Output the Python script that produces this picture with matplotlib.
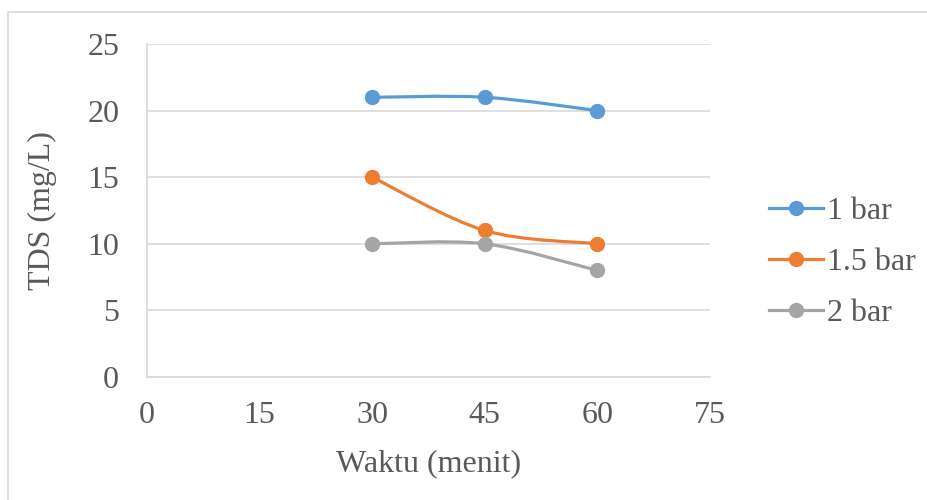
import numpy as np
import matplotlib as mpl
import matplotlib.pyplot as plt
from matplotlib.path import Path
from matplotlib.patches import PathPatch, Rectangle
from matplotlib.lines import Line2D

# data
waktu = [30, 45, 60]
tds_1bar = [21, 21, 20]
tds_15bar = [15, 11, 10]
tds_2bar = [10, 10, 8]
labels = ["1 bar", "1.5 bar", "2 bar"]
colors = ["#5B9BD5", "#ED7D31", "#A5A5A5"]
xticks = [0, 15, 30, 45, 60, 75]
yticks = [0, 5, 10, 15, 20, 25]

mpl.rcParams["font.family"] = ["Liberation Serif", "DejaVu Serif"]
txt_color = "#595959"
grid_color = "#D9D9D9"
fs = 23

def smooth_path(x, y):
    # Excel-like smoothed line (Catmull-Rom as cubic Bezier)
    pts = np.column_stack([x, y]).astype(float)
    n = len(pts)
    verts = [pts[0]]
    codes = [Path.MOVETO]
    for i in range(n - 1):
        p0 = pts[i - 1] if i > 0 else pts[i]
        p1 = pts[i]
        p2 = pts[i + 1]
        p3 = pts[i + 2] if i + 2 < n else pts[i + 1]
        c1 = p1 + (p2 - p0) / 6.0
        c2 = p2 - (p3 - p1) / 6.0
        verts += [c1, c2, p2]
        codes += [Path.CURVE4] * 3
    return Path(verts, codes)

fig = plt.figure(figsize=(9.28, 5.0), dpi=100)
fig.patches.append(Rectangle((8/928, -0.01), 1.0, 1 - 12/500 + 0.01, transform=fig.transFigure,
                             fill=False, edgecolor=grid_color, lw=1.2))
ax = fig.add_axes([147/928, 1 - 377/500, (710 - 147)/928, (377 - 44)/500])

handles = []
for ys, lab, c in zip([tds_1bar, tds_15bar, tds_2bar], labels, colors):
    ax.add_patch(PathPatch(smooth_path(waktu, ys), fill=False, edgecolor=c, lw=2.3,
                           capstyle="round", joinstyle="round", zorder=3))
    ax.plot(waktu, ys, ls="none", marker="o", ms=10, color=c, zorder=4)
    handles.append(Line2D([], [], color=c, lw=2.3, marker="o", ms=10, label=lab))

ax.set_xlim(0, 75)
ax.set_ylim(0, 25)
ax.set_xticks(xticks)
ax.set_yticks(yticks)
ax.yaxis.grid(True, color=grid_color, lw=1.2)
ax.set_axisbelow(True)
for s in ["top", "right"]:
    ax.spines[s].set_visible(False)
for s in ["left", "bottom"]:
    ax.spines[s].set_color(grid_color)
    ax.spines[s].set_linewidth(1.2)
ax.tick_params(length=0, labelsize=fs, colors=txt_color)
ax.tick_params(axis="y", pad=20)
ax.tick_params(axis="x", pad=17)

ax.set_xlabel("Waktu (menit)", fontsize=fs, color=txt_color, labelpad=14)
ax.set_ylabel("TDS (mg/L)", fontsize=fs, color=txt_color, labelpad=22)

leg = ax.legend(handles=handles, loc="center left", bbox_to_anchor=(1.082, 0.345),
                frameon=False, fontsize=fs, handlelength=1.7, handletextpad=0.12,
                labelspacing=0.68, borderaxespad=0.0)
for t in leg.get_texts():
    t.set_color(txt_color)

plt.savefig("out.png", dpi=100)
